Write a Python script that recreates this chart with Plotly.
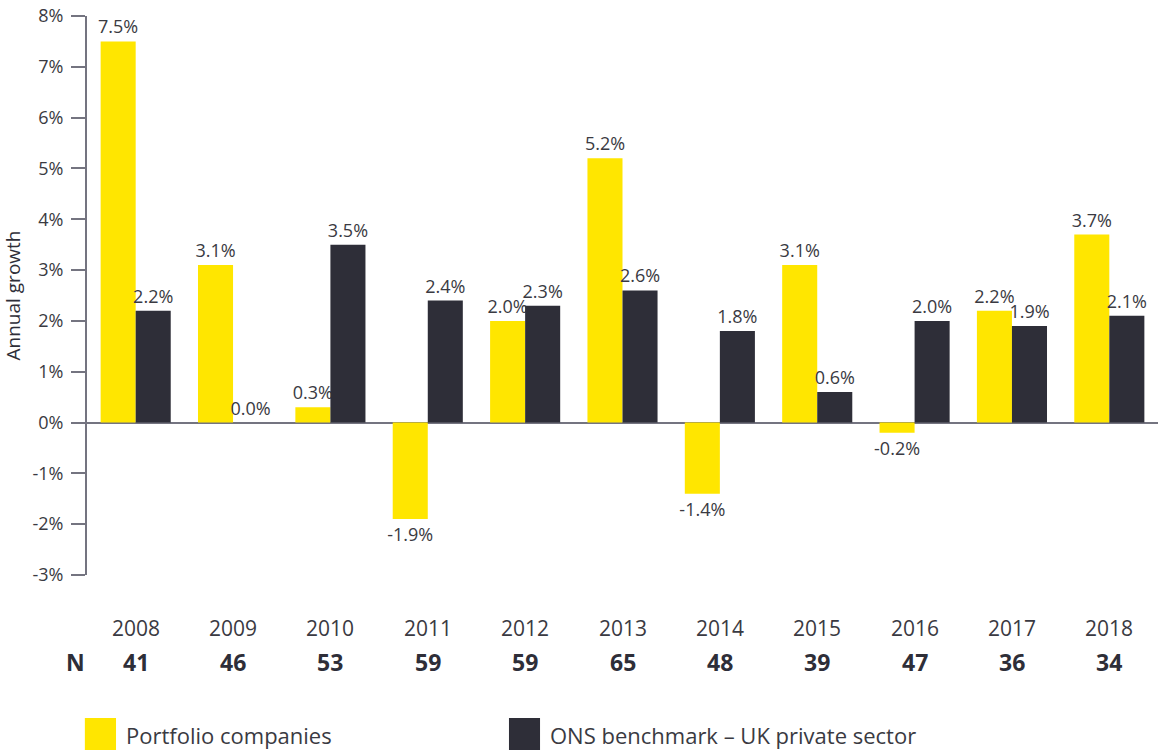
import plotly.graph_objects as go

years = ["2008", "2009", "2010", "2011", "2012", "2013", "2014", "2015", "2016", "2017", "2018"]
n_counts = [41, 46, 53, 59, 59, 65, 48, 39, 47, 36, 34]
portfolio = [7.5, 3.1, 0.3, -1.9, 2.0, 5.2, -1.4, 3.1, -0.2, 2.2, 3.7]
ons = [2.2, 0.0, 3.5, 2.4, 2.3, 2.6, 1.8, 0.6, 2.0, 1.9, 2.1]
tick_vals = [-3, -2, -1, 0, 1, 2, 3, 4, 5, 6, 7, 8]
tick_text = [f"{v}%" for v in tick_vals]

YELLOW = "#FFE600"
DARK = "#2E2E38"
TEXT = "#3A3A42"
AXIS = "#747480"
FONT = "Open Sans"

fig = go.Figure()
fig.add_trace(go.Bar(
    x=years, y=portfolio, name="Portfolio companies",
    marker=dict(color=YELLOW, line=dict(width=0)),
    text=[f"{v:.1f}%" for v in portfolio], textposition="outside",
    textfont=dict(size=18, color=TEXT, family=FONT), cliponaxis=False,
    constraintext="none",
))
fig.add_trace(go.Bar(
    x=years, y=ons, name="ONS benchmark \u2013 UK private sector",
    marker=dict(color=DARK, line=dict(width=0)),
    text=[f"{v:.1f}%" for v in ons], textposition="outside",
    textfont=dict(size=18, color=TEXT, family=FONT), cliponaxis=False,
    constraintext="none",
))

annotations = []
for i, (y, n) in enumerate(zip(years, n_counts)):
    annotations.append(dict(x=i, xref="x", y=-0.0948, yref="paper", text=y,
                            showarrow=False, font=dict(size=21, color=TEXT, family=FONT),
                            xanchor="center", yanchor="middle"))
    annotations.append(dict(x=i, xref="x", y=-0.1556, yref="paper", text=f"<b>{n}</b>",
                            showarrow=False, font=dict(size=23, color=DARK, family=FONT),
                            xanchor="center", yanchor="middle"))
annotations.append(dict(x=-0.0103, xref="paper", y=-0.1556, yref="paper", text="<b>N</b>",
                        showarrow=False, font=dict(size=23, color=DARK, family=FONT),
                        xanchor="center", yanchor="middle"))
# legend
annotations.append(dict(x=0.0345, xref="paper", y=-0.286, yref="paper", text="Portfolio companies",
                        showarrow=False, font=dict(size=22, color=TEXT, family=FONT),
                        xanchor="left", yanchor="middle"))
annotations.append(dict(x=0.4304, xref="paper", y=-0.286, yref="paper",
                        text="ONS benchmark \u2013 UK private sector",
                        showarrow=False, font=dict(size=22, color=TEXT, family=FONT),
                        xanchor="left", yanchor="middle"))

shapes = [
    dict(type="rect", xref="paper", yref="paper", x0=-0.002, x1=0.0271, y0=-0.3131, y1=-0.2558,
         fillcolor=YELLOW, line=dict(width=0)),
    dict(type="rect", xref="paper", yref="paper", x0=0.394, x1=0.423, y0=-0.3131, y1=-0.2558,
         fillcolor=DARK, line=dict(width=0)),
]

fig.update_layout(
    width=1166, height=751,
    margin=dict(l=87, r=8, t=16, b=176, autoexpand=False),
    plot_bgcolor="white", paper_bgcolor="white",
    barmode="group", bargap=0.28, bargroupgap=0,
    showlegend=False,
    font=dict(family=FONT, color=TEXT),
    annotations=annotations, shapes=shapes,
    xaxis=dict(type="category", range=[-0.5, len(years) - 0.5], showticklabels=False,
               showline=False, showgrid=False, ticks="", zeroline=False, automargin=False),
    yaxis=dict(range=[-3, 8], tickvals=tick_vals, ticktext=tick_text, automargin=False,
               ticks="outside", ticklen=14, tickwidth=2, tickcolor=AXIS,
               showline=True, linecolor=AXIS, linewidth=2, showgrid=False,
               zeroline=True, zerolinecolor=AXIS, zerolinewidth=2,
               tickfont=dict(size=18, color=TEXT, family=FONT), ticklabelstandoff=4,
               title=dict(text="Annual growth", font=dict(size=19, color=DARK, family=FONT), standoff=12)),
)

fig.write_html("out.html", config={"displayModeBar": False},
               post_script="document.body.style.margin='0px';")
